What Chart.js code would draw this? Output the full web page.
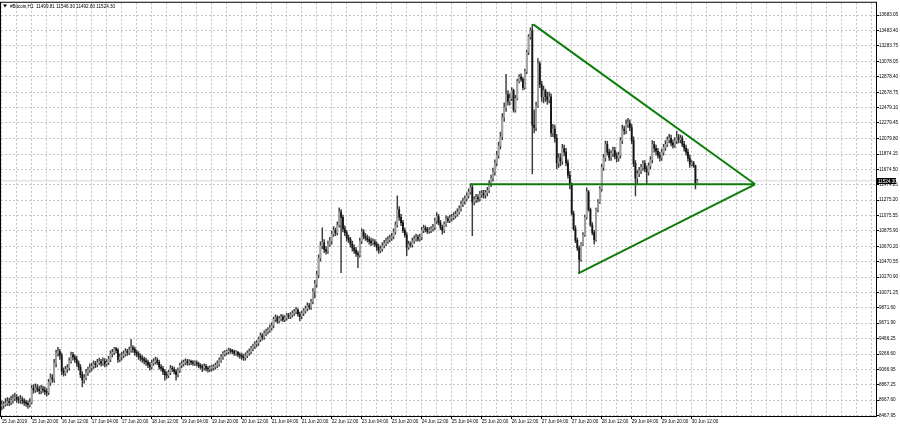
<!DOCTYPE html>
<html>
<head>
<meta charset="utf-8">
<title>#Bitcoin,H1</title>
<script src="https://cdn.jsdelivr.net/npm/chart.js@4.4.1/dist/chart.umd.min.js"></script>
<style>
  html, body { margin: 0; padding: 0; background: #fff; }
  #wrap { width: 900px; height: 427px; }
</style>
</head>
<body>
<div id="wrap"><canvas id="btcChart" width="900" height="427"></canvas></div>
<script>
// Bitcoin H1, 15 Jun 2019 00:00 .. 30 Jun 2019 11:00 (one value per hourly bar)

const symbolName = '#Bitcoin,H1';

// time axis labels, one every 16 bars
const timeLabels = [
    '15 Jun 2019', '15 Jun 20:00', '16 Jun 12:00', '17 Jun 04:00', '17 Jun 20:00', '18 Jun 12:00',
    '19 Jun 04:00', '19 Jun 20:00', '20 Jun 12:00', '21 Jun 04:00', '21 Jun 20:00', '22 Jun 12:00',
    '23 Jun 04:00', '23 Jun 20:00', '24 Jun 12:00', '25 Jun 04:00', '25 Jun 20:00', '26 Jun 12:00',
    '27 Jun 04:00', '27 Jun 20:00', '28 Jun 12:00', '29 Jun 04:00', '29 Jun 20:00', '30 Jun 12:00'
];

// price axis labels, top to bottom
const priceTicks = [
    '13683.05', '13483.40', '13283.75', '13078.05', '12878.40', '12678.75', '12479.10', '12279.45',
    '12079.80', '11874.15', '11674.50', '11474.85', '11275.20', '11075.55', '10875.90', '10670.20',
    '10470.55', '10270.90', '10071.25', '9871.60', '9671.90', '9466.25', '9266.60', '9066.95',
    '8867.25', '8667.60', '8467.95'
];

const firstOpen = 8590;

const closes = [
    8600, 8615, 8630, 8650, 8640, 8665, 8690, 8705, 8680, 8670, 8675, 8660, 8640, 8625, 8610, 8640,
    8820, 8800, 8830, 8810, 8790, 8815, 8800, 8780, 8770, 8900, 8960, 8940, 9150, 9280, 9300, 9250,
    9050, 9020, 9070, 9090, 9180, 9260, 9230, 9200, 9150, 9100, 9000, 8930, 8960, 9030, 9060, 9090,
    9110, 9140, 9130, 9160, 9170, 9150, 9175, 9140, 9160, 9200, 9270, 9290, 9340, 9320, 9200, 9230,
    9250, 9270, 9300, 9290, 9320, 9350, 9330, 9290, 9270, 9240, 9215, 9200, 9180, 9165, 9130, 9100,
    9150, 9170, 9190, 9160, 9100, 9080, 9040, 9000, 8990, 9030, 9080, 9070, 9040, 9000, 9060, 9120,
    9140, 9160, 9170, 9155, 9165, 9160, 9150, 9155, 9140, 9120, 9100, 9090, 9110, 9080, 9070, 9085,
    9090, 9100, 9120, 9140, 9190, 9230, 9270, 9290, 9300, 9320, 9310, 9300, 9280, 9290, 9260, 9250,
    9230, 9220, 9250, 9280, 9300, 9340, 9370, 9400, 9410, 9460, 9510, 9490, 9540, 9560, 9580, 9610,
    9640, 9720, 9740, 9700, 9730, 9750, 9720, 9740, 9770, 9760, 9780, 9800, 9820, 9840, 9790, 9760,
    9800, 9830, 9860, 9900, 9880, 9950, 10080, 10180, 10300, 10520, 10680, 10720, 10630, 10610, 10700, 10740,
    10830, 10880, 10850, 10950, 11120, 11050, 10900, 10850, 10780, 10760, 10700, 10650, 10620, 10580, 10560, 10740,
    10860, 10800, 10780, 10760, 10740, 10720, 10730, 10700, 10660, 10620, 10640, 10680, 10710, 10740, 10760, 10780,
    10800, 10860, 10950, 11150, 11050, 10980, 10880, 10820, 10660, 10700, 10690, 10740, 10770, 10790, 10770, 10790,
    10880, 10910, 10890, 10870, 10880, 10900, 10920, 11000, 11060, 10980, 10920, 10880, 10960, 11030, 11010, 11040,
    11050, 11070, 11090, 11120, 11160, 11220, 11260, 11290, 11330, 11380, 11440, 11250, 11280, 11310, 11290, 11350,
    11360, 11340, 11370, 11400, 11490, 11560, 11640, 11760, 11860, 11980, 12100, 12350, 12480, 12650, 12560, 12600,
    12700, 12450, 12600, 12820, 12880, 12850, 12740, 12950, 13200, 13400, 13480, 12250, 12220, 12500, 13050, 12780,
    12620, 12700, 12620, 12580, 12620, 12150, 12200, 12080, 11760, 11820, 11780, 11950, 11900, 11760, 11600, 11480,
    11100, 10900, 10750, 10650, 10500, 10700, 10820, 11050, 11380, 11150, 10950, 10850, 10760, 11150, 11250, 11420,
    11700, 11820, 12000, 11900, 11830, 11880, 11920, 11850, 11820, 11860, 12050, 12200, 12180, 12260, 12280, 12220,
    12050, 11750, 11560, 11620, 11660, 11700, 11750, 11680, 11640, 11720, 11800, 12000, 11950, 11910, 11860, 11830,
    11900, 11960, 12000, 12060, 12080, 12020, 11990, 12050, 12090, 12060, 12080, 12000, 11950, 11900, 11820, 11740,
    11760, 11720, 11499.81, 11524.30
];

const highs = [
    8660, 8650, 8690, 8700, 8695, 8720, 8740, 8760, 8740, 8715, 8730, 8710, 8690, 8670, 8660, 8690,
    8860, 8870, 8880, 8870, 8850, 8860, 8850, 8840, 8820, 8940, 9010, 9000, 9200, 9320, 9357, 9330,
    9280, 9090, 9110, 9130, 9220, 9293, 9290, 9260, 9240, 9180, 9130, 9040, 9000, 9070, 9100, 9140,
    9150, 9180, 9175, 9200, 9215, 9200, 9220, 9210, 9195, 9240, 9310, 9330, 9357, 9355, 9340, 9270,
    9290, 9310, 9340, 9330, 9360, 9461, 9380, 9360, 9320, 9300, 9270, 9250, 9230, 9215, 9190, 9160,
    9190, 9210, 9230, 9220, 9190, 9130, 9110, 9070, 9040, 9060, 9120, 9110, 9100, 9070, 9090, 9150,
    9180, 9190, 9205, 9200, 9195, 9190, 9185, 9180, 9180, 9165, 9145, 9130, 9140, 9135, 9110, 9115,
    9120, 9130, 9150, 9180, 9220, 9265, 9300, 9315, 9325, 9345, 9340, 9330, 9320, 9315, 9305, 9285,
    9280, 9265, 9285, 9310, 9335, 9370, 9400, 9430, 9445, 9490, 9545, 9535, 9570, 9595, 9615, 9650,
    9680, 9750, 9780, 9770, 9760, 9785, 9780, 9770, 9800, 9800, 9810, 9830, 9850, 9876, 9860, 9815,
    9830, 9860, 9895, 9935, 9930, 9980, 10120, 10230, 10350, 10560, 10730, 10914, 10760, 10670, 10740, 10790,
    10870, 10930, 10910, 10990, 11173, 11150, 11080, 10940, 10880, 10820, 10790, 10740, 10690, 10660, 10610, 10780,
    10900, 10890, 10840, 10820, 10800, 10780, 10770, 10760, 10730, 10700, 10680, 10720, 10750, 10780, 10800, 10820,
    10840, 10900, 10990, 11329, 11190, 11090, 11010, 10910, 10850, 10740, 10730, 10780, 10810, 10830, 10820, 10830,
    10920, 10950, 10940, 10920, 10915, 10930, 10960, 11040, 11110, 11090, 11010, 10950, 10990, 11070, 11060, 11080,
    11090, 11110, 11130, 11160, 11200, 11260, 11300, 11330, 11370, 11420, 11485, 11470, 11320, 11350, 11345, 11390,
    11400, 11400, 11400, 11440, 11530, 11600, 11690, 11800, 11910, 12030, 12160, 12400, 12540, 12911, 12700, 12660,
    12740, 12720, 12640, 12850, 12910, 12920, 12870, 12980, 13230, 13430, 13520, 13563, 12450, 12550, 13119, 13080,
    12820, 12760, 12720, 12680, 12680, 12660, 12260, 12250, 12130, 11880, 11880, 12000, 11990, 11950, 11800, 11650,
    11500, 11130, 10940, 10780, 10680, 10720, 10850, 11080, 11433, 11400, 11170, 10980, 10880, 11170, 11280, 11450,
    11740, 11870, 12042, 12040, 11940, 11920, 11965, 11960, 11890, 11900, 12090, 12250, 12240, 12320, 12341, 12320,
    12260, 12100, 11790, 11660, 11700, 11740, 11790, 11790, 11720, 11760, 11840, 12050, 12040, 11990, 11950, 11900,
    11940, 12000, 12050, 12100, 12130, 12120, 12060, 12090, 12172, 12130, 12120, 12110, 12040, 11990, 11940, 11860,
    11790, 11780, 11730, 11546.30
];

const lows = [
    8540, 8560, 8590, 8600, 8595, 8610, 8630, 8660, 8640, 8630, 8625, 8620, 8600, 8585, 8560, 8580,
    8620, 8760, 8770, 8780, 8750, 8750, 8770, 8740, 8720, 8740, 8860, 8900, 8900, 9100, 9240, 9200,
    9000, 8980, 8990, 9030, 9060, 9150, 9190, 9160, 9110, 9060, 8960, 8839, 8890, 8930, 8990, 9030,
    9050, 9080, 9090, 9100, 9130, 9110, 9120, 9100, 9110, 9130, 9170, 9230, 9260, 9280, 9160, 9170,
    9190, 9220, 9240, 9250, 9260, 9290, 9290, 9250, 9230, 9200, 9180, 9160, 9140, 9120, 9090, 9060,
    9070, 9120, 9140, 9130, 9070, 9050, 9000, 8929, 8950, 8960, 9000, 9040, 9010, 8929, 8970, 9030,
    9090, 9110, 9130, 9125, 9125, 9130, 9120, 9120, 9110, 9090, 9070, 9040, 9060, 9050, 9033, 9040,
    9050, 9060, 9070, 9090, 9110, 9160, 9200, 9240, 9260, 9270, 9280, 9270, 9250, 9250, 9230, 9210,
    9200, 9185, 9190, 9220, 9250, 9270, 9310, 9340, 9365, 9380, 9430, 9450, 9460, 9505, 9530, 9550,
    9580, 9610, 9690, 9670, 9675, 9700, 9690, 9690, 9710, 9730, 9730, 9750, 9770, 9790, 9760, 9700,
    9730, 9770, 9800, 9830, 9850, 9850, 9920, 10000, 10140, 10260, 10480, 10640, 10590, 10570, 10580, 10670,
    10700, 10800, 10810, 10820, 10920, 10330, 10860, 10810, 10740, 10720, 10660, 10610, 10580, 10540, 10395, 10530,
    10710, 10770, 10750, 10730, 10700, 10680, 10690, 10670, 10620, 10580, 10590, 10610, 10650, 10680, 10710, 10730,
    10750, 10770, 10830, 10920, 11010, 10940, 10850, 10790, 10550, 10630, 10660, 10660, 10710, 10740, 10740, 10740,
    10760, 10850, 10860, 10840, 10840, 10850, 10870, 10890, 10970, 10950, 10890, 10830, 10850, 10930, 10980, 10980,
    11000, 11020, 11040, 11060, 11090, 11130, 11190, 11220, 11260, 11300, 11350, 10810, 11210, 11240, 11250, 11260,
    11310, 11300, 11300, 11330, 11370, 11450, 11520, 11600, 11720, 11820, 11940, 12060, 12300, 12430, 12510, 12510,
    12570, 12420, 12420, 12580, 12800, 12820, 12710, 12720, 12920, 13170, 13370, 11614, 12150, 12180, 12480, 12740,
    12560, 12540, 12560, 12520, 12540, 12100, 12100, 12030, 11680, 11700, 11720, 11740, 11850, 11720, 11560, 11420,
    11080, 10880, 10720, 10620, 10320, 10480, 10680, 10800, 11030, 11130, 10930, 10820, 10700, 10740, 11120, 11230,
    11390, 11660, 11780, 11860, 11790, 11790, 11840, 11810, 11770, 11780, 11820, 12010, 12130, 12140, 12220, 12180,
    12010, 11710, 11330, 11480, 11580, 11620, 11660, 11640, 11480, 11600, 11680, 11760, 11900, 11860, 11820, 11780,
    11790, 11860, 11920, 11970, 12020, 11980, 11950, 11960, 12010, 12020, 12020, 11970, 11910, 11860, 11780, 11700,
    11720, 11700, 11420, 11492.80
];

// hand-drawn trend lines (bar index, price)
const supportLevel = 11480;
const levelFrom = 249.8;
const apexIdx = 401.8;
const upperFrom = { x: 283.5, y: 13563 };
const lowerFrom = { x: 307.5, y: 10320 };

// visible window
const xMin = -0.37, xMax = 466.3;
const yMin = 8461.5, yMax = 13845;

const FONT = '4.6px "Liberation Sans", Arial, sans-serif';
const GREEN = '#0b7d0b';

// build candle pieces
const opens = closes.map((c, i) => (i === 0 ? firstOpen : closes[i - 1]));
const wickData = closes.map((c, i) => ({ x: i, y: [lows[i], highs[i]] }));
const bodyData = closes.map((c, i) => ({ x: i, y: [Math.min(opens[i], c), Math.max(opens[i], c)] }));
const bodyColors = closes.map((c, i) => (c >= opens[i] ? '#a4a4a4' : '#141414'));

const gridIdx = [];
for (let v = 0; v <= xMax; v += 8) gridIdx.push(v);

const lastBar = closes.length - 1;

// frame, header line and current price tag
const mtDecor = {
    id: 'mtDecor',
    beforeDraw(chart) {
        const ctx = chart.ctx;
        ctx.save();
        ctx.fillStyle = '#fff';
        ctx.fillRect(0, 0, chart.width, chart.height);
        ctx.restore();
    },
    afterDraw(chart) {
        const { ctx, chartArea: a } = chart;
        const y = chart.scales.y;
        ctx.save();
        ctx.strokeStyle = '#000';
        ctx.lineWidth = 1;
        ctx.strokeRect(a.left - 0.5, a.top - 0.5, a.right - a.left + 1, a.bottom - a.top + 1);

        // price tag
        const py = Math.round(y.getPixelForValue(closes[lastBar]));
        ctx.fillStyle = '#000';
        ctx.fillRect(a.right, py - 3, 20, 6);
        ctx.fillStyle = '#fff';
        ctx.font = FONT;
        ctx.textBaseline = 'middle';
        ctx.textAlign = 'left';
        ctx.fillText(closes[lastBar].toFixed(2), a.right + 2, py + 0.5);

        // header
        ctx.fillStyle = '#000';
        ctx.beginPath();
        ctx.moveTo(3, 4.5); ctx.lineTo(7, 4.5); ctx.lineTo(5, 7.5); ctx.closePath();
        ctx.fill();
        const ohlc = [opens[lastBar], highs[lastBar], lows[lastBar], closes[lastBar]].map(v => v.toFixed(2)).join(' ');
        ctx.fillText(symbolName + '  ' + ohlc, 10, 6.5);
        ctx.restore();
    }
};

const ctx = document.getElementById('btcChart').getContext('2d');
new Chart(ctx, {
    type: 'bar',
    data: {
        datasets: [
            {
                type: 'line', label: 'level', order: 0,
                data: [{ x: levelFrom, y: supportLevel }, { x: apexIdx, y: supportLevel }],
                borderColor: GREEN, borderWidth: 2, pointRadius: 0, fill: false, tension: 0
            },
            {
                type: 'line', label: 'upper', order: 0,
                data: [upperFrom, { x: apexIdx, y: supportLevel }],
                borderColor: GREEN, borderWidth: 2, pointRadius: 0, fill: false, tension: 0
            },
            {
                type: 'line', label: 'lower', order: 0,
                data: [lowerFrom, { x: apexIdx, y: supportLevel }],
                borderColor: GREEN, borderWidth: 2, pointRadius: 0, fill: false, tension: 0
            },
            {
                type: 'line', label: 'bid', order: 5,
                data: [{ x: xMin, y: closes[lastBar] }, { x: xMax, y: closes[lastBar] }],
                borderColor: '#d4d4d4', borderWidth: 1, pointRadius: 0, fill: false
            },
            {
                label: 'bodies', order: 1, grouped: false,
                data: bodyData,
                backgroundColor: bodyColors,
                barThickness: 1.15, minBarLength: 1, borderWidth: 0
            },
            {
                label: 'wicks', order: 2, grouped: false,
                data: wickData,
                backgroundColor: '#3c3c3c',
                barThickness: 0.8, borderWidth: 0
            }
        ]
    },
    options: {
        responsive: false,
        animation: false,
        devicePixelRatio: 1,
        layout: { padding: { top: 1, left: 1, right: 0, bottom: 0 } },
        plugins: {
            legend: { display: false },
            tooltip: { enabled: false }
        },
        scales: {
            x: {
                type: 'linear',
                min: xMin,
                max: xMax,
                offset: false,
                afterBuildTicks: s => { s.ticks = gridIdx.map(v => ({ value: v })); },
                afterFit: s => { s.height = 11; },
                grid: {
                    color: '#c4c4c4',
                    offset: false,
                    tickLength: 3,
                    tickColor: c => (c.index % 2 === 0 && c.index / 2 < timeLabels.length ? '#000' : 'rgba(0,0,0,0)')
                },
                border: { display: true, color: '#000', dash: [2, 2] },
                ticks: {
                    autoSkip: false,
                    maxRotation: 0,
                    minRotation: 0,
                    align: 'start',
                    padding: 0,
                    color: '#000',
                    font: { family: '"Liberation Sans", Arial, sans-serif', size: 4.6 },
                    callback: (v, i) => (i % 2 === 0 ? (timeLabels[i / 2] || '') : '')
                }
            },
            y: {
                position: 'right',
                min: yMin,
                max: yMax,
                afterBuildTicks: s => { s.ticks = priceTicks.map(t => ({ value: parseFloat(t) })); },
                afterFit: s => { s.width = 24; },
                grid: { color: '#c4c4c4', tickLength: 3, tickColor: '#000' },
                border: { display: true, color: '#000', dash: [2, 2] },
                ticks: {
                    autoSkip: false,
                    padding: 0,
                    color: '#000',
                    font: { family: '"Liberation Sans", Arial, sans-serif', size: 4.6 },
                    callback: v => priceTicks.find(t => parseFloat(t) === v) || ''
                }
            }
        }
    },
    plugins: [mtDecor]
});
</script>
</body>
</html>
